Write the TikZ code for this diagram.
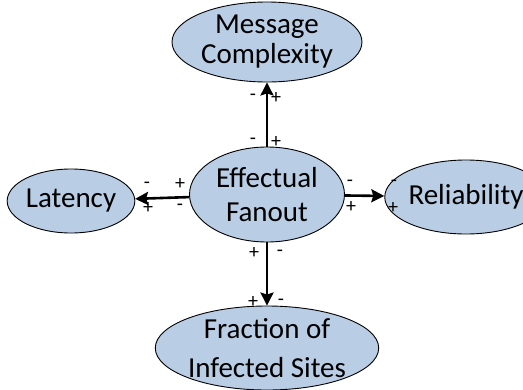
\documentclass[tikz,border=0pt]{standalone}
\usepackage{fontspec}
\setmainfont{Carlito}
\usepackage{xcolor}
\usetikzlibrary{arrows.meta, shapes.geometric}

\definecolor{bubble}{HTML}{B9CDE5}

\begin{document}
\begin{tikzpicture}[x=1pt, y=-1pt, >=Stealth]
		\tikzstyle{bubble} = [draw=black, line width=0.9pt, ellipse, fill=bubble, inner sep=0pt, align=center, font=\fontsize{29}{34}\selectfont]
		\tikzstyle{sign} = [inner sep=0pt, font=\fontsize{20}{20}\selectfont]
		\tikzstyle{arrow} = [line width=2.6pt, -{Stealth[length=13pt, width=13pt, inset=2pt]}]
		
		\useasboundingbox (0, 0) rectangle (523, 389);
		
		\node[bubble, minimum width=155pt, minimum height=95pt]	at (267, 194.5)	(ef)	{Effectual\\Fanout};
		
		\node[bubble, minimum width=190pt, minimum height=80pt, font=\fontsize{29}{30}\selectfont]	at (267, 42)	(mc)	{Message\\Complexity};
		\node[bubble, minimum width=122pt, minimum height=64pt]	at (71, 201)	(lat)	{Latency};
		\node[bubble, minimum width=118pt, minimum height=74pt]	at (466, 197)	(rel)	{Reliability};
		\node[bubble, minimum width=190pt, minimum height=84pt, font=\fontsize{29}{39}\selectfont]	at (267, 348)	(fis)	{Fraction of\\Infected Sites};
		
		\draw [arrow] (ef.north) -- (mc.south);
		\draw [arrow] (ef) -- (lat);
		\draw [arrow] (ef) -- (rel);
		\draw [arrow] (ef.south) -- (fis.north);
		
		% signs at the ends of each link
		\node[sign]	at (253, 141)	(mc1)	{-};
		\node[sign]	at (276, 142)	(mc2)	{+};
		\node[sign]	at (253, 97)	(mc3)	{-};
		\node[sign]	at (276, 98)	(mc4)	{+};
		
		\node[sign]	at (180, 184)	(lat1)	{+};
		\node[sign]	at (180, 207)	(lat2)	{-};
		\node[sign]	at (147, 185)	(lat3)	{-};
		\node[sign]	at (148, 208)	(lat4)	{+};
		
		\node[sign]	at (350, 183)	(rel1)	{-};
		\node[sign]	at (351, 207)	(rel2)	{+};
		\node[sign]	at (394, 183)	(rel3)	{-};
		\node[sign]	at (393, 208)	(rel4)	{+};
		
		\node[sign]	at (254, 253)	(fis1)	{+};
		\node[sign]	at (280, 253)	(fis2)	{-};
		\node[sign]	at (253, 302)	(fis3)	{+};
		\node[sign]	at (281, 302)	(fis4)	{-};
	\end{tikzpicture}
\end{document}
